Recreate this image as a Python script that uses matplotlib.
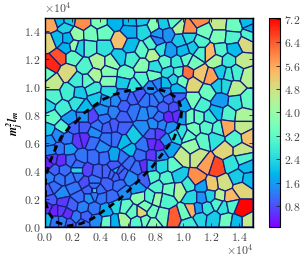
import numpy as np
import matplotlib
matplotlib.use("Agg")
import matplotlib.pyplot as plt
from matplotlib.collections import PolyCollection
from matplotlib.colors import Normalize

plt.rcParams['mathtext.fontset'] = 'cm'
plt.rcParams['font.family'] = 'serif'
plt.rcParams['font.serif'] = ['cmr10', 'DejaVu Serif']
plt.rcParams['axes.formatter.use_mathtext'] = True

# Cell sites read per quadrant of the plot: (x, y, value), x/y on a 0-315 reading scale of 0.75e4
q_top_left = [(20,20,5.6),(48,10,2.0),(70,8,2.2),(62,28,2.3),(115,15,5.9),(165,12,3.6),(215,12,1.9),(260,10,2.0),(295,8,2.2),
(15,75,5.0),(40,65,2.0),(70,65,1.9),(65,90,1.9),(97,52,4.0),(140,50,3.5),(180,47,3.4),(228,70,5.3),(258,40,1.8),(300,40,2.4),
(105,90,2.3),(180,90,2.6),(135,90,3.0),(90,85,4.0),(45,118,6.5),(22,140,6.9),(85,118,3.2),(160,135,4.3),(205,135,3.9),(225,120,2.2),
(260,85,2.0),(295,100,3.2),(265,125,2.9),(70,165,4.9),(125,150,3.0),(150,172,4.3),(25,195,4.6),(5,170,3.4),(245,170,3.2),(295,145,3.8),
(195,165,3.7),(195,190,3.7),(100,190,2.8),(75,225,2.8),(105,228,2.2),(145,215,2.7),(130,190,3.2),(155,245,2.2),(195,225,2.4),(25,240,3.0),
(10,265,2.4),(55,275,2.8),(100,255,2.6),(25,300,3.2),(75,305,1.6),(120,270,2.0),(240,195,2.2),(295,185,3.0),(270,205,2.6),
(185,250,1.6),(215,250,1.4),(240,235,1.2),(265,245,1.0),(285,235,0.9),(305,250,1.2),(175,280,1.5),(210,285,1.3),(240,265,1.0),(270,280,1.2),
(300,290,1.4),(145,300,0.7),(180,305,1.2),(120,300,1.5),(235,300,1.0)]

q_top_right = [(15,25,3.7),(45,20,2.2),(75,12,3.2),(92,30,4.3),(120,35,5.9),(155,8,5.9),(210,20,4.6),(258,25,3.4),(300,12,2.0),(310,35,1.9),
(30,50,1.6),(55,50,1.5),(25,70,1.3),(95,70,2.2),(120,60,2.4),(170,40,3.5),(210,55,3.6),(255,60,3.0),(155,75,3.0),(290,80,4.9),(305,50,3.0),
(10,80,3.0),(35,95,2.6),(65,100,1.6),(105,100,2.0),(135,90,2.2),(155,105,3.0),(187,105,5.4),(215,100,3.0),(260,95,2.0),(205,128,4.2),(12,112,4.4),
(240,130,2.7),(285,130,4.6),(50,135,3.2),(85,135,2.7),(115,125,3.2),(135,135,3.5),(20,150,2.5),(115,167,6.2),(155,170,5.2),(190,180,5.7),
(60,165,2.5),(90,165,3.0),(75,185,2.4),(100,190,3.4),(15,175,3.4),(50,200,2.0),(220,165,2.2),(240,170,2.7),(265,165,2.9),(300,175,4.4),
(135,200,5.0),(210,205,2.2),(260,215,4.5),(230,205,2.4),(25,200,1.3),(10,210,1.4),(50,225,1.4),(30,240,1.3),(85,215,2.0),(180,225,3.4),
(135,250,3.5),(105,265,1.7),(85,240,1.0),(60,245,1.0),(15,250,1.2),(45,270,1.0),(75,270,0.8),(10,285,1.3),(60,300,0.4),(85,295,0.5),(30,300,1.1),
(100,300,1.6),(160,265,2.9),(125,300,3.4),(150,300,3.3),(205,285,2.0),(215,250,1.6),(185,300,2.7),(240,290,3.0),(265,255,2.6),(295,250,3.2),(285,295,4.3)]

q_bottom_left = [(10,25,2.2),(55,15,3.0),(90,15,1.0),(120,15,0.9),(150,30,1.4),(160,10,1.2),(190,15,1.0),(210,10,0.9),(235,15,1.0),(270,40,2.2),(300,15,1.4),
(240,60,2.0),(190,50,1.2),(215,50,1.1),(15,55,1.5),(40,40,1.4),(70,50,1.2),(100,55,0.6),(120,50,0.5),(145,60,1.1),(175,75,1.4),(210,100,1.7),
(255,85,2.0),(300,70,1.2),(290,100,1.1),(240,105,1.2),(75,80,1.6),(20,85,1.4),(45,80,1.2),(110,105,1.2),(150,105,1.1),(180,105,1.1),(25,110,0.6),
(50,115,0.5),(10,125,0.4),(80,115,1.1),(210,135,0.9),(255,120,1.1),(280,135,1.1),(30,145,1.0),(60,145,1.1),(100,145,2.4),(130,145,0.7),(160,150,1.0),
(190,150,1.0),(230,155,1.0),(260,170,1.4),(300,130,0.5),(305,170,1.0),(15,165,1.3),(45,170,1.2),(80,170,1.2),(120,180,0.8),(150,175,1.2),(190,185,1.0),
(215,145,2.0),(225,190,1.1),(240,210,1.4),(280,200,1.6),(10,205,1.0),(50,215,1.4),(90,195,1.2),(105,225,1.1),(150,205,2.4),(135,225,1.5),(170,225,1.2),
(205,225,1.1),(30,195,1.1),(20,235,0.9),(55,240,0.6),(85,250,1.0),(115,255,1.3),(150,260,1.2),(185,265,1.8),(215,250,2.4),(285,225,3.8),(245,255,3.2),
(10,255,0.5),(30,265,0.4),(50,265,0.6),(70,275,0.5),(95,285,1.2),(125,285,1.0),(155,295,1.4),(190,300,3.3),(240,295,4.2),(210,300,1.9),(280,300,3.1),
(265,270,3.3),(295,270,5.0),(305,255,3.6),(305,295,3.4),(10,295,2.0),(30,300,1.2),(55,300,1.3),(75,305,1.0),(115,305,1.2),
(100,128,1.1),(100,162,1.2),(150,192,1.1),(135,205,1.0),(165,205,1.1),(150,218,1.3),(225,150,1.0),(205,155,1.0),(215,160,1.0)]

q_bottom_right = [(15,5,1.4),(40,8,1.3),(65,15,1.5),(100,30,2.6),(135,20,3.5),(175,15,3.1),(210,20,3.0),(235,15,5.6),(285,15,4.6),(300,45,5.3),(260,50,3.0),
(10,35,0.9),(30,35,0.6),(50,55,1.4),(10,65,0.5),(30,70,0.4),(10,100,0.6),(35,100,1.4),(5,130,1.6),(65,80,1.7),(80,40,2.4),(120,40,3.2),(130,70,4.0),
(165,55,3.2),(200,50,2.6),(230,85,5.0),(280,85,4.7),(100,105,4.6),(150,105,4.7),(175,125,5.7),(205,135,6.6),(40,130,2.4),(75,130,3.2),(250,125,2.6),
(285,110,3.0),(295,135,2.0),(55,170,3.0),(90,160,2.2),(145,170,5.9),(190,190,5.2),(228,185,4.8),(270,165,2.2),(280,200,5.0),(300,170,2.0),(10,165,3.0),
(25,195,3.0),(5,225,3.0),(60,200,3.4),(95,203,4.3),(120,190,2.8),(160,195,1.7),(130,225,2.4),(160,225,1.5),(185,220,2.3),(215,222,4.4),(245,225,5.4),
(208,245,3.0),(225,255,2.6),(250,250,3.0),(280,262,7.2),(50,235,3.0),(25,230,4.0),(10,270,3.4),(78,285,6.4),(40,280,3.5),(110,275,3.4),(130,265,5.5),
(150,262,1.6),(175,260,2.6),(155,285,2.4),(195,290,2.2),(235,295,3.4),(265,300,2.0),(300,300,4.6),(10,305,3.8),(120,305,2.8)]

# Dashed boundary, in units of 1e4
curve_x = [0.226,0.286,0.357,0.429,0.5,0.583,0.655,0.726,0.81,0.893,0.96,0.988,0.98,0.929,0.857,0.774,0.714,0.643,0.548,0.464,0.345,0.262,0.167,0.071,0.029,0.007,0.007,0.029,0.083,0.119,0.179,0.226]
curve_y = [0.75,0.817,0.869,0.917,0.948,0.971,0.988,0.995,0.988,0.964,0.917,0.845,0.762,0.631,0.536,0.429,0.369,0.298,0.207,0.143,0.06,0.024,0.007,0.04,0.107,0.179,0.333,0.44,0.571,0.643,0.714,0.75]

axis_ticks = [0.0,0.2,0.4,0.6,0.8,1.0,1.2,1.4]
cbar_ticks = [0.8,1.6,2.4,3.2,4.0,4.8,5.6,6.4,7.2]
vmin, vmax = 0.08, 7.25

def to_units(rows, x0, y0):
    a = np.array(rows, float)
    return np.column_stack([x0 + a[:,0]/420, y0 - a[:,1]/420, a[:,2]])

sites = np.vstack([to_units(q_top_left,0,1.5), to_units(q_top_right,0.75,1.5),
                   to_units(q_bottom_left,0,0.75), to_units(q_bottom_right,0.75,0.75)])

def clip(poly, mid, normal):
    out = []
    d = (poly - mid) @ normal
    for i in range(len(poly)):
        j = (i+1) % len(poly)
        if d[i] <= 0:
            out.append(poly[i])
        if d[i]*d[j] < 0:
            out.append(poly[i] + (poly[j]-poly[i])*d[i]/(d[i]-d[j]))
    return np.array(out) if out else np.zeros((0,2))

pts = sites[:,:2]
cells = []
for i, p in enumerate(pts):
    poly = np.array([[0,0],[1.5,0],[1.5,1.5],[0,1.5]], float)
    for j, q in enumerate(pts):
        if i != j and len(poly):
            poly = clip(poly, (p+q)/2, q-p)
    cells.append(poly)

fig = plt.figure(figsize=(3.04,2.61), dpi=100)
W, H = 304, 261
ax = fig.add_axes([44.5/W, 1-227/H, 208.5/W, 209.5/H])
norm = Normalize(vmin, vmax)
pc = PolyCollection(cells, array=sites[:,2], cmap='rainbow', norm=norm,
                    edgecolors='#16207a', linewidths=0.9)
ax.add_collection(pc)
ax.plot(curve_x, curve_y, color='k', lw=2.0, dashes=(2.4,1.8), dash_capstyle='butt')
ax.set_xlim(0,1.5); ax.set_ylim(0,1.5)
ax.set_xticks(axis_ticks); ax.set_yticks(axis_ticks)
ax.set_xticklabels([f'${t:.1f}$' for t in axis_ticks])
ax.set_yticklabels([f'${t:.1f}$' for t in axis_ticks])
ax.tick_params(direction='in', length=3, width=0.6, labelsize=8.5, labelcolor='#444444', color='#222222', pad=3, top=True, right=True)
for s in ax.spines.values():
    s.set_linewidth(1.0)
ax.text(0.0, 1.012, r'$\times10^{4}$', transform=ax.transAxes, fontsize=8.5, color='#444444', va='bottom', ha='left')
ax.text(1.0, -0.07, r'$\times10^{4}$', transform=ax.transAxes, fontsize=8.5, color='#444444', va='top', ha='right')
fig.text(15/W, 1-123/H, r'$\mathbfit{m_j^2 l_m}$', rotation=90, fontsize=8.5, ha='center', va='center', color='k', math_fontfamily='stix')

cax = fig.add_axes([269/W, 1-227/H, 11/W, 209.5/H])
cb = fig.colorbar(plt.cm.ScalarMappable(norm=norm, cmap='rainbow'), cax=cax)
cb.set_ticks(cbar_ticks)
cb.set_ticklabels([f'${t:.1f}$' for t in cbar_ticks])
cb.ax.tick_params(direction='in', length=3, width=0.6, labelsize=8.5, labelcolor='#444444', color='#222222', pad=3)
cb.outline.set_linewidth(0.8)
fig.savefig('out.png', dpi=100)
